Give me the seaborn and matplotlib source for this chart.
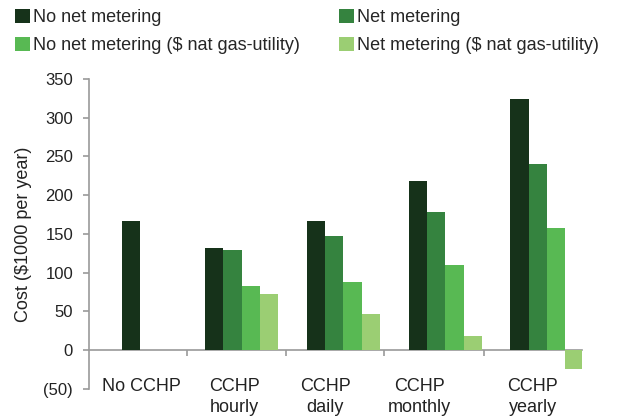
import numpy as np
import pandas as pd
import matplotlib
matplotlib.use("Agg")
import matplotlib.pyplot as plt
import seaborn as sns

# Annual cost by scenario, $1000 per year
scenarios = ["No CCHP", "CCHP\nhourly", "CCHP\ndaily", "CCHP\nmonthly", "CCHP\nyearly"]
series = ["No net metering", "Net metering",
          "No net metering ($ nat gas-utility)", "Net metering ($ nat gas-utility)"]
no_net_metering = [167, 132.5, 167, 219, 324]
net_metering = [np.nan, 129, 148, 178, 240]
no_net_metering_gas = [np.nan, 83, 88, 110, 158]
net_metering_gas = [np.nan, 73, 47, 18, -24.5]
y_ticks = [-50, 0, 50, 100, 150, 200, 250, 300, 350]
y_tick_labels = ["(50)", "0", "50", "100", "150", "200", "250", "300", "350"]

colors = ["#16321a", "#35833f", "#58b953", "#9bce73"]

df = pd.DataFrame({
    "scenario": np.repeat(scenarios, len(series)),
    "series": series * len(scenarios),
    "cost": np.column_stack([no_net_metering, net_metering,
                             no_net_metering_gas, net_metering_gas]).ravel(),
})

sns.set_theme(style="white")
plt.rcParams["font.family"] = ["Liberation Sans", "DejaVu Sans"]

fig = plt.figure(figsize=(6.19, 4.18), dpi=100)
ax = fig.add_axes([0.1438, 0.0694, 0.7966, 0.7416])

sns.barplot(data=df, x="scenario", y="cost", hue="series", hue_order=series,
            order=scenarios, palette=colors, width=0.72, errorbar=None,
            saturation=1, linewidth=0, ax=ax)

# the single "No CCHP" bar sits one slot to the right
first = ax.containers[0][0]
first.set_x(first.get_x() + first.get_width())

ax.set_xlim(-0.5, 4.345)
ax.set_ylim(-50, 350)

gray = "#9a9a9a"
for side in ["top", "right", "bottom"]:
    ax.spines[side].set_visible(False)
ax.spines["left"].set_color(gray)
ax.spines["left"].set_linewidth(1.2)

ax.set_yticks(y_ticks, y_tick_labels)
ax.tick_params(axis="y", direction="out", length=4.5, width=1.2, color=gray,
               pad=7, labelsize=12, labelcolor="#222222", left=True)

# category labels
label_pos = [0.02, 0.93, 1.82, 2.75, 3.86]
ax.set_xticks(label_pos, scenarios)
ax.tick_params(axis="x", length=0, pad=-8, labelsize=13, labelcolor="#222222")
for lbl in ax.get_xticklabels():
    lbl.set_linespacing(1.3)
ax.set_xlabel("")

# zero line with category separators
zero = ax.secondary_xaxis(50 / 400)
zero.spines["bottom"].set_color(gray)
zero.spines["bottom"].set_linewidth(1.2)
zero.set_xticks([0.465, 1.437, 2.40, 3.38])
zero.tick_params(axis="x", direction="out", length=4.5, width=1.2, color=gray,
                 labelbottom=False)

ax.set_ylabel("Cost ($1000 per year)", fontsize=13, color="#222222")
ax.yaxis.set_label_coords(-0.115, 0.5)

# legend filled row by row
handles, labels = ax.get_legend_handles_labels()
ax.get_legend().remove()
order = [0, 2, 1, 3]
fig.legend([handles[i] for i in order], [labels[i] for i in order],
           loc="upper left", bbox_to_anchor=(0.019, 0.988),
           ncol=2, frameon=False, fontsize=13, handlelength=0.83,
           handleheight=0.83, handletextpad=0.17, columnspacing=2.15,
           labelspacing=0.6, borderaxespad=0, borderpad=0.2)

fig.savefig("out.png", dpi=100)
